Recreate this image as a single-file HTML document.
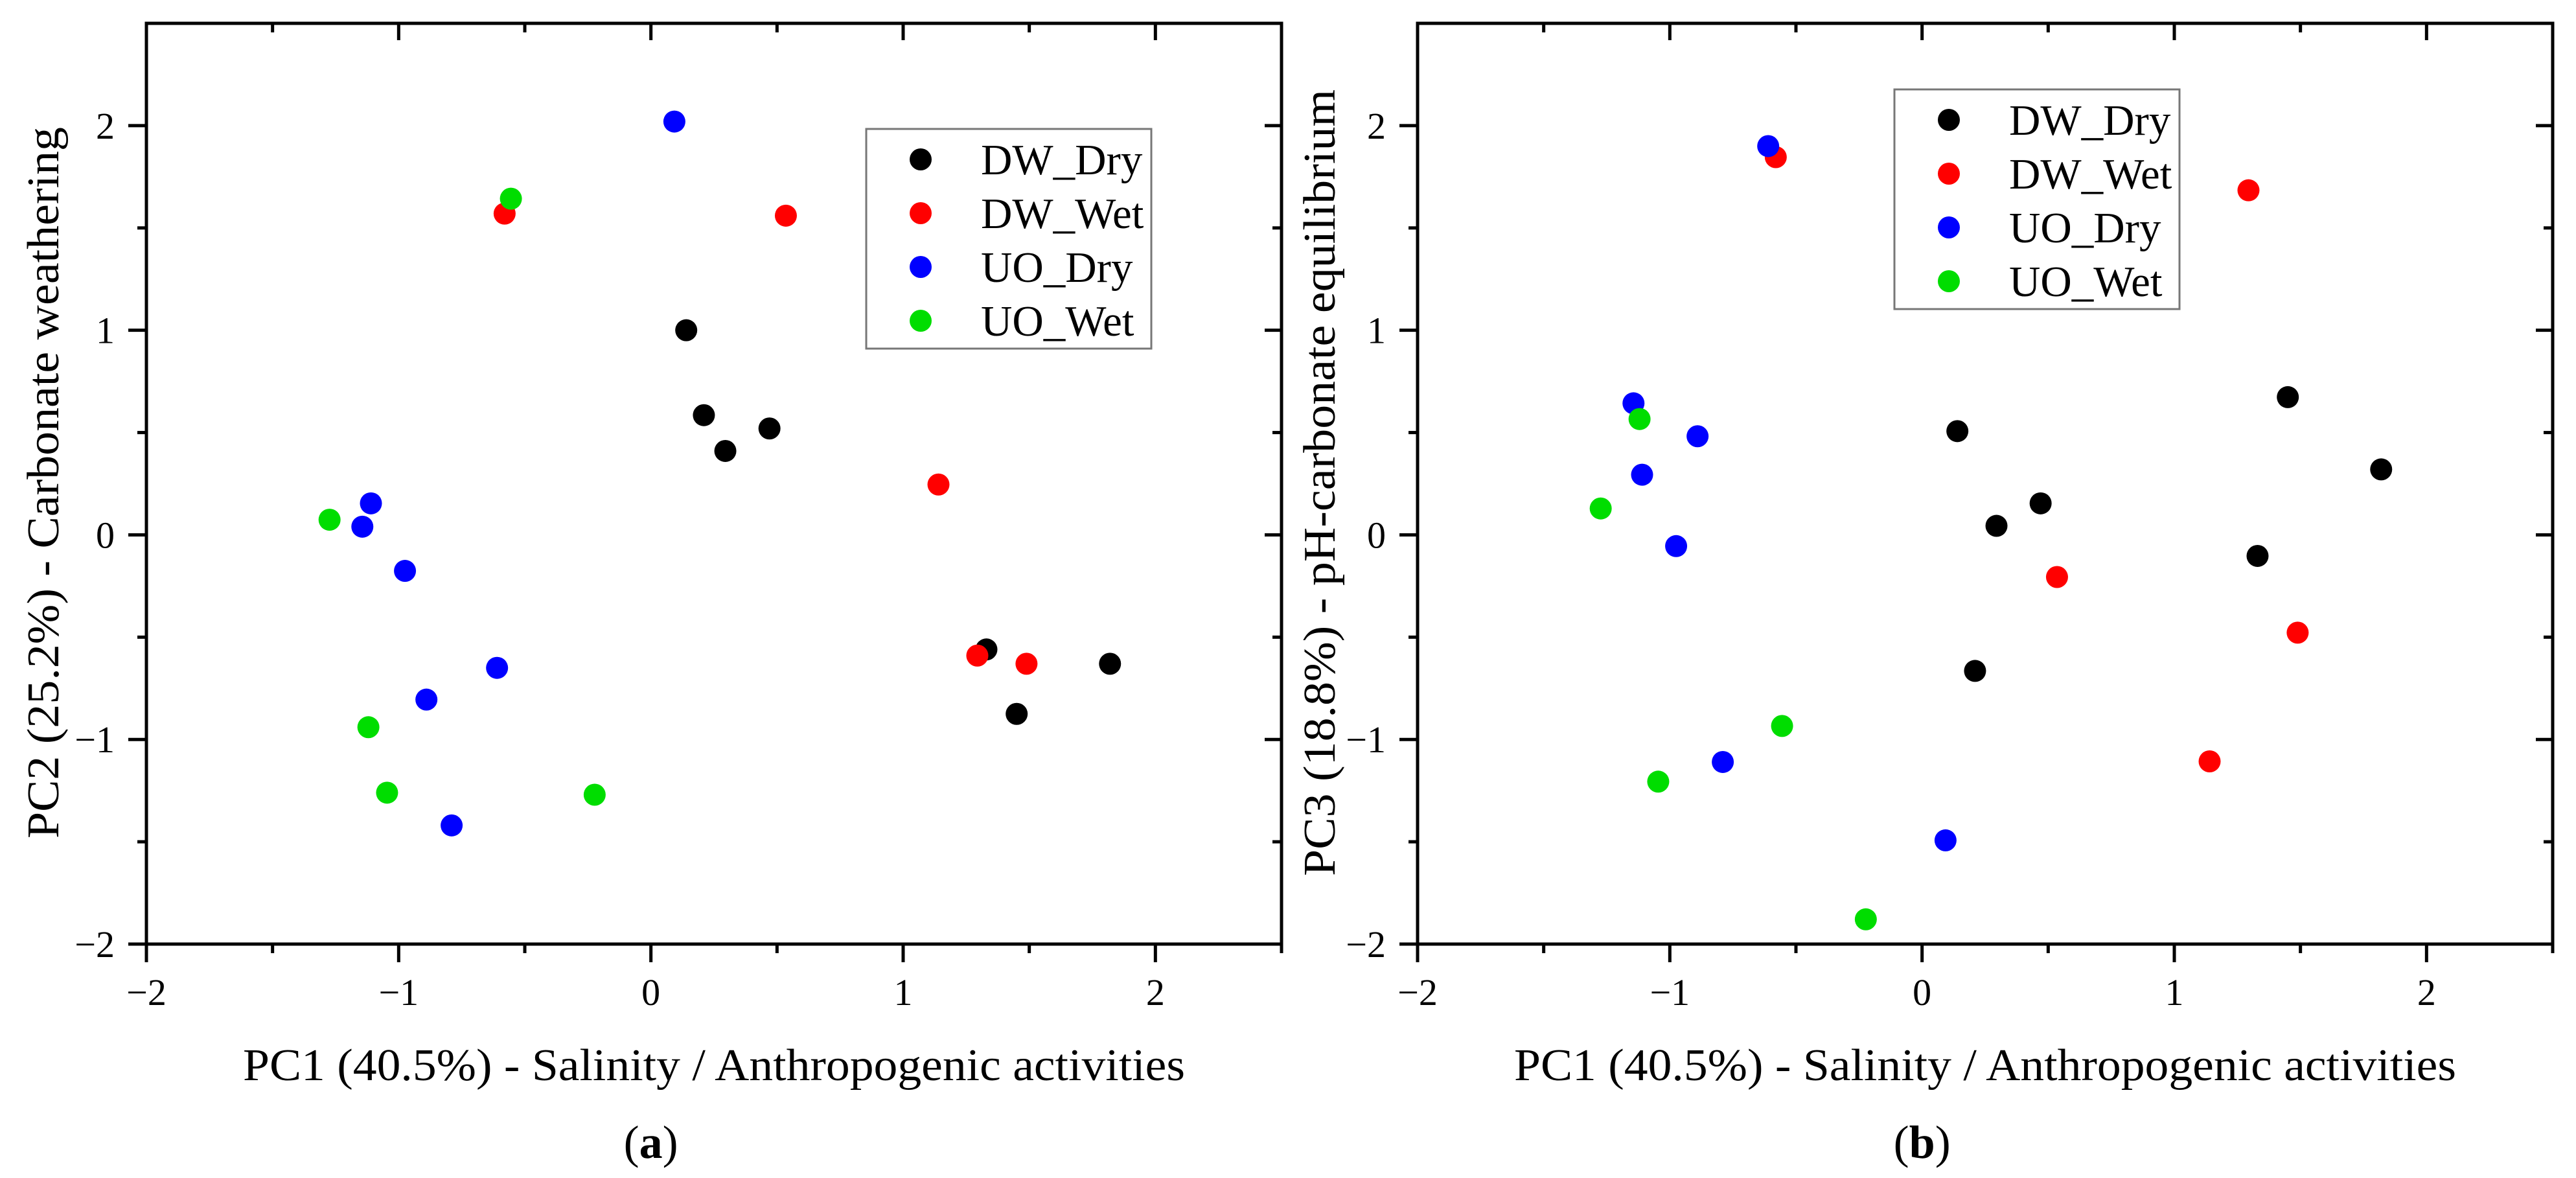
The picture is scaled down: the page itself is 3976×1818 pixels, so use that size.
<!DOCTYPE html>
<html><head><meta charset="utf-8"><style>
html,body{margin:0;padding:0;background:#fff;}
svg{display:block;}
text{font-family:"Liberation Serif","DejaVu Serif",serif;}
</style></head><body>
<svg id="fig" width="3976" height="1818" viewBox="0 0 3976 1818"></svg>
<script>
const seriesNames = ["DW_Dry","DW_Wet","UO_Dry","UO_Wet"];
const seriesColors = ["#000000","#ff0000","#0000ff","#00dd00"];
const pc1_DW_Dry = [0.14,0.21,0.295,0.47,1.33,1.45,1.82];
const pc2_DW_Dry = [1.0,0.585,0.41,0.52,-0.56,-0.875,-0.63];
const pc3_DW_Dry = [0.507,-0.665,0.044,0.154,-0.103,0.673,0.32];
const pc1_DW_Wet = [-0.58,0.535,1.14,1.294,1.489];
const pc2_DW_Wet = [1.57,1.56,0.246,-0.59,-0.63];
const pc3_DW_Wet = [1.846,-0.206,-1.107,1.684,-0.478];
const pc1_UO_Dry = [0.093,-1.11,-1.144,-0.975,-0.61,-0.89,-0.79];
const pc2_UO_Dry = [2.02,0.154,0.04,-0.176,-0.65,-0.805,-1.42];
const pc3_UO_Dry = [-1.493,0.294,0.643,-0.055,1.9,0.482,-1.11];
const pc1_UO_Wet = [-0.555,-1.274,-1.12,-1.046,-0.223];
const pc2_UO_Wet = [1.643,0.074,-0.94,-1.26,-1.27];
const pc3_UO_Wet = [-0.934,0.129,0.566,-1.206,-1.879];
const xTicks = [-2,-1,0,1,2];
const yTicks = [-2,-1,0,1,2];

const NS="http://www.w3.org/2000/svg";
const svg=document.getElementById('fig');
function mk(tag,attrs,parent){const e=document.createElementNS(NS,tag);for(const k in attrs)e.setAttribute(k,attrs[k]);(parent||svg).appendChild(e);return e;}
function fmt(v){return v<0?"\u2212"+Math.abs(v):String(v);}
const FF='"Liberation Serif", serif';

function panel(px,ytitle,yLen,ytx,letter,ys,legX,legY){
  const L=px,R=px+1752,T=36,B=1457;
  const xs=v=>L+(v+2)/4.5*(R-L);
  const yv=v=>B-(v+2)/4.5*(B-T);
  const g=mk('g',{});
  
  
  for(let v=-1.5;v<2.6;v+=1){
    const x=xs(v);
    mk('line',{x1:x,y1:B,x2:x,y2:B+14,stroke:'#000','stroke-width':5},g);
    mk('line',{x1:x,y1:T,x2:x,y2:T+14,stroke:'#000','stroke-width':5},g);
    const y=yv(v);
    if(v<2.5){mk('line',{x1:L,y1:y,x2:L-14,y2:y,stroke:'#000','stroke-width':5},g);
    mk('line',{x1:R,y1:y,x2:R-14,y2:y,stroke:'#000','stroke-width':5},g);}
  }
  xTicks.forEach(v=>{
    const x=xs(v);
    mk('line',{x1:x,y1:B,x2:x,y2:B+28,stroke:'#000','stroke-width':5},g);
    mk('line',{x1:x,y1:T,x2:x,y2:T+26,stroke:'#000','stroke-width':5},g);
    const t=mk('text',{x:x,y:1551,'font-size':58,'text-anchor':'middle','font-family':FF},g);
    t.textContent=fmt(v);
    
    
  });
  yTicks.forEach(v=>{
    const y=yv(v);
    mk('line',{x1:L,y1:y,x2:L-28,y2:y,stroke:'#000','stroke-width':5},g);
    mk('line',{x1:R,y1:y,x2:R-26,y2:y,stroke:'#000','stroke-width':5},g);
    const t=mk('text',{x:L-49,y:y+20,'font-size':58,'text-anchor':'end','font-family':FF},g);
    t.textContent=fmt(v);
    
    
  });
  const fr=mk('rect',{x:L,y:T,width:R-L,height:B-T,fill:'none',stroke:'#000','stroke-width':5},g);
  
  
  const xsArr=[pc1_DW_Dry,pc1_DW_Wet,pc1_UO_Dry,pc1_UO_Wet];
  xsArr.forEach((arr,si)=>{
    arr.forEach((v,i)=>{
      const c=mk('ellipse',{cx:xs(v),cy:yv(ys[si][i]),rx:17,ry:17,fill:seriesColors[si]},g);
      
      
    });
  });
  const lg=mk('g',{},g);
  
  
  mk('rect',{x:legX,y:legY,width:440,height:339,fill:'#fff',stroke:'#777','stroke-width':3},lg);
  seriesNames.forEach((n,i)=>{
    const yy=legY+47+i*83;
    const e=mk('g',{},lg);
    
    
    mk('ellipse',{cx:legX+84,cy:yy,rx:17,ry:17,fill:seriesColors[i]},e);
    const t=mk('text',{x:legX+177,y:yy+23,'font-size':67,'font-family':FF},e);
    t.textContent=n;
  });
  const xt=mk('text',{x:(L+R)/2,y:1667,'font-size':70,'text-anchor':'middle','font-family':FF,textLength:1454,lengthAdjust:'spacingAndGlyphs'},g);
  xt.textContent='PC1 (40.5%) - Salinity / Anthropogenic activities';
  
  
  const yty=745;
  const yt=mk('text',{x:ytx,y:yty,'font-size':70,'text-anchor':'middle','font-family':FF,textLength:yLen,lengthAdjust:'spacingAndGlyphs',transform:`rotate(-90 ${ytx} ${yty})`},g);
  yt.textContent=ytitle;
  
  
  const lt=mk('text',{x:xs(0),y:1787,'font-size':72,'text-anchor':'middle','font-family':FF},g);
  lt.innerHTML='(<tspan font-weight="bold">'+letter+'</tspan>)';
  
  
}
panel(226,'PC2 (25.2%) - Carbonate weathering',1098,66+24,'a',[pc2_DW_Dry,pc2_DW_Wet,pc2_UO_Dry,pc2_UO_Wet],1337,199);
panel(2188,'PC3 (18.8%) - pH-carbonate equilibrium',1214,2036+24,'b',[pc3_DW_Dry,pc3_DW_Wet,pc3_UO_Dry,pc3_UO_Wet],2924,138);
</script>
</body></html>
